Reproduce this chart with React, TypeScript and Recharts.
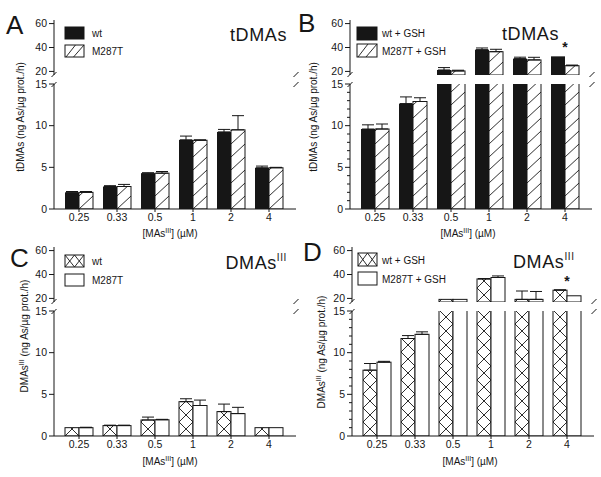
import React from "react";
import { BarChart, Bar, XAxis, YAxis, ErrorBar, LabelList } from "recharts";

const FONT = '"Liberation Sans", Arial, Helvetica, sans-serif';
const INK = "#161616";

// ---------------------------------------------------------------------------
// Data
// ---------------------------------------------------------------------------

const categories = ["0.25", "0.33", "0.5", "1", "2", "4"];

// A: tDMAs, no GSH
const aWt = [2.0, 2.7, 4.3, 8.3, 9.25, 4.95];
const aWtErr = [0.1, 0.1, 0.05, 0.45, 0.3, 0.2];
const aMut = [2.0, 2.7, 4.3, 8.25, 9.5, 4.95];
const aMutErr = [0.1, 0.25, 0.2, 0.05, 1.7, 0.05];
const aSig = [false, false, false, false, false, false];

// B: tDMAs + GSH
const bWt = [9.6, 12.65, 21.2, 38.2, 30.7, 32.6];
const bWtErr = [0.5, 0.8, 2.0, 1.4, 1.2, 0];
const bMut = [9.6, 12.9, 20.4, 36.5, 29.6, 24.8];
const bMutErr = [0.6, 0.45, 0.6, 2.0, 2.2, 0.5];
const bSig = [false, false, false, false, false, true];

// C: DMAs(III), no GSH
const cWt = [1.0, 1.25, 1.92, 4.12, 2.93, 1.0];
const cWtErr = [0, 0.05, 0.35, 0.35, 0.9, 0];
const cMut = [1.0, 1.25, 1.95, 3.66, 2.69, 1.0];
const cMutErr = [0.05, 0.05, 0.05, 0.65, 0.75, 0];
const cSig = [false, false, false, false, false, false];

// D: DMAs(III) + GSH
const dWt = [7.9, 11.7, 19.2, 36.3, 19.2, 26.9];
const dWtErr = [0.8, 0.35, 0, 0.3, 7.0, 0.3];
const dMut = [8.86, 12.2, 19.2, 37.5, 19.2, 22.2];
const dMutErr = [0.1, 0.3, 0, 1.3, 6.6, 0];
const dSig = [false, false, false, false, false, true];

const topTicks = [20, 40, 60];
const lowTicks = [0, 1, 2, 3, 4, 5, 6, 7, 8, 9, 10, 11, 12, 13, 14, 15];
const lowMajor = [0, 5, 10, 15];

// broken axis: upper segment and lower segment
const TOP_MIN = 17;
const TOP_MAX = 63;
const LOW_MAX = 15;

// ---------------------------------------------------------------------------
// Layout
// ---------------------------------------------------------------------------

const W = 242; // plot width
const TOP_H = 55;
const GAP = 9;
const LOW_H = 125;
const AXW = 34;
const PAD = 2;
const EXT = 8; // room for tick labels next to the break
const XAXH = 30;
const XPAD = { left: 6, right: 8 };

type Kind = "solid" | "stripe" | "cross" | "open";

// ---------------------------------------------------------------------------
// Bar shapes
// ---------------------------------------------------------------------------

function BarShape(props: any) {
  const { x, y, width, height, kind, pid, index } = props;
  if (width == null || height == null || height <= 0) return null;
  if (kind === "solid") {
    return <rect x={x} y={y} width={width} height={height} fill={INK} />;
  }
  const id = `${pid}-${index}`;
  const tile = kind === "cross" ? width : 13;
  return (
    <g>
      {kind !== "open" && (
        <defs>
          <pattern
            id={id}
            patternUnits="userSpaceOnUse"
            x={x}
            y={y + height}
            width={width}
            height={tile}
          >
            <rect width={width} height={tile} fill="#fff" />
            {kind === "stripe" && (
              <line x1={0} y1={tile} x2={width} y2={0} stroke={INK} strokeWidth={0.9} />
            )}
            {kind === "cross" && (
              <>
                <line x1={0} y1={0} x2={width} y2={tile} stroke={INK} strokeWidth={0.9} />
                <line x1={width} y1={0} x2={0} y2={tile} stroke={INK} strokeWidth={0.9} />
              </>
            )}
          </pattern>
        </defs>
      )}
      <rect
        x={x}
        y={y}
        width={width}
        height={height}
        fill={kind === "open" ? "#fff" : `url(#${id})`}
        stroke={INK}
        strokeWidth={1}
      />
    </g>
  );
}

function YTick(props: any) {
  const { x, y, payload, minor } = props;
  const v = payload.value;
  const major = lowMajor.includes(v) || topTicks.includes(v);
  if (!major && !minor) return null;
  const len = major ? 5 : 3;
  return (
    <g>
      <line x1={x - len} x2={x} y1={y} y2={y} stroke={INK} strokeWidth={1} />
      {major && (
        <text
          x={x - 7}
          y={y}
          dy="0.35em"
          textAnchor="end"
          fontSize={10.5}
          fontFamily={FONT}
          fill={INK}
        >
          {v}
        </text>
      )}
    </g>
  );
}

function StarLabel(props: any) {
  const { x, y, width, value } = props;
  if (!value) return null;
  return (
    <text
      x={Number(x) + Number(width)}
      y={Number(y) - 4}
      textAnchor="middle"
      fontSize={14}
      fontWeight="bold"
      fontFamily={FONT}
      fill={INK}
    >
      *
    </text>
  );
}

// ---------------------------------------------------------------------------
// One panel = upper segment chart + lower segment chart
// ---------------------------------------------------------------------------

interface PanelProps {
  id: string;
  left: number;
  top: number;
  wt: number[];
  wtErr: number[];
  mut: number[];
  mutErr: number[];
  sig: boolean[];
  wtKind: Kind;
  mutKind: Kind;
  minor: boolean;
}

function Panel(p: PanelProps) {
  const topData = categories.map((cat, i) => ({
    cat,
    wt: p.wt[i] > TOP_MIN ? p.wt[i] : null,
    mut: p.mut[i] > TOP_MIN ? p.mut[i] : null,
    wtErr: p.wt[i] > TOP_MIN && p.wtErr[i] > 0 ? [0, p.wtErr[i]] : null,
    mutErr: p.mut[i] > TOP_MIN && p.mutErr[i] > 0 ? [0, p.mutErr[i]] : null,
    star: p.sig[i] ? "*" : null,
  }));
  const lowData = categories.map((cat, i) => ({
    cat,
    wt: p.wt[i],
    mut: p.mut[i],
    wtErr: p.wt[i] <= LOW_MAX && p.wtErr[i] > 0 ? [0, p.wtErr[i]] : null,
    mutErr: p.mut[i] <= LOW_MAX && p.mutErr[i] > 0 ? [0, p.mutErr[i]] : null,
  }));

  const axisLine = { stroke: INK, strokeWidth: 1 };

  const rightAxis = (
    <YAxis
      yAxisId="r"
      orientation="right"
      width={0}
      domain={[0, 1]}
      tick={false}
      tickLine={false}
      axisLine={axisLine}
    />
  );

  return (
    <>
      <div style={{ position: "absolute", left: p.left - AXW, top: p.top - PAD }}>
        <BarChart
          width={AXW + W + PAD}
          height={PAD + TOP_H + EXT}
          data={topData}
          margin={{ top: PAD, right: PAD, left: 0, bottom: EXT }}
          barGap={0}
          barSize={14}
        >
          <XAxis
            dataKey="cat"
            orientation="top"
            height={0}
            tick={false}
            tickLine={false}
            axisLine={axisLine}
            padding={XPAD}
          />
          <YAxis
            type="number"
            domain={[TOP_MIN, TOP_MAX]}
            allowDataOverflow
            ticks={topTicks}
            interval={0}
            width={AXW}
            tickSize={0}
            tickMargin={0}
            tickLine={false}
            tick={<YTick minor={false} />}
            axisLine={axisLine}
          />
          {rightAxis}
          <Bar
            dataKey="wt"
            isAnimationActive={false}
            shape={(s: any) => <BarShape {...s} kind={p.wtKind} pid={`${p.id}-tw`} />}
          >
            <ErrorBar dataKey="wtErr" width={6} stroke={INK} strokeWidth={1} />
            <LabelList dataKey="star" content={<StarLabel />} />
          </Bar>
          <Bar
            dataKey="mut"
            isAnimationActive={false}
            shape={(s: any) => <BarShape {...s} kind={p.mutKind} pid={`${p.id}-tm`} />}
          >
            <ErrorBar dataKey="mutErr" width={6} stroke={INK} strokeWidth={1} />
          </Bar>
        </BarChart>
      </div>
      <div
        style={{
          position: "absolute",
          left: p.left - AXW,
          top: p.top + TOP_H + GAP - EXT,
        }}
      >
        <BarChart
          width={AXW + W + PAD}
          height={EXT + LOW_H + XAXH}
          data={lowData}
          margin={{ top: EXT, right: PAD, left: 0, bottom: 0 }}
          barGap={0}
          barSize={14}
        >
          <XAxis
            dataKey="cat"
            height={XAXH}
            interval={0}
            tickSize={3}
            tickMargin={2}
            tick={{ fontSize: 10.5, fill: INK, fontFamily: FONT }}
            tickLine={{ stroke: INK }}
            axisLine={axisLine}
            padding={XPAD}
          />
          <YAxis
            type="number"
            domain={[0, LOW_MAX]}
            allowDataOverflow
            ticks={lowTicks}
            interval={0}
            width={AXW}
            tickSize={0}
            tickMargin={0}
            tickLine={false}
            tick={<YTick minor={p.minor} />}
            axisLine={axisLine}
          />
          {rightAxis}
          <Bar
            dataKey="wt"
            isAnimationActive={false}
            shape={(s: any) => <BarShape {...s} kind={p.wtKind} pid={`${p.id}-lw`} />}
          >
            <ErrorBar dataKey="wtErr" width={6} stroke={INK} strokeWidth={1} />
          </Bar>
          <Bar
            dataKey="mut"
            isAnimationActive={false}
            shape={(s: any) => <BarShape {...s} kind={p.mutKind} pid={`${p.id}-lm`} />}
          >
            <ErrorBar dataKey="mutErr" width={6} stroke={INK} strokeWidth={1} />
          </Bar>
        </BarChart>
      </div>
    </>
  );
}

// ---------------------------------------------------------------------------
// Decorations: letters, titles, legends, axis titles, break marks
// ---------------------------------------------------------------------------

function Swatch({ x, y, w, h, kind }: { x: number; y: number; w: number; h: number; kind: Kind }) {
  return (
    <g>
      <rect
        x={x}
        y={y}
        width={w}
        height={h}
        fill={kind === "solid" ? INK : "#fff"}
        stroke={INK}
        strokeWidth={1}
      />
      {kind === "stripe" && (
        <>
          <line x1={x + 1} y1={y + h} x2={x + w * 0.55} y2={y} stroke={INK} strokeWidth={0.9} />
          <line x1={x + w * 0.45} y1={y + h} x2={x + w} y2={y} stroke={INK} strokeWidth={0.9} />
        </>
      )}
      {kind === "cross" && (
        <>
          <line x1={x} y1={y} x2={x + w / 2} y2={y + h} stroke={INK} strokeWidth={0.9} />
          <line x1={x + w / 2} y1={y} x2={x} y2={y + h} stroke={INK} strokeWidth={0.9} />
          <line x1={x + w / 2} y1={y} x2={x + w} y2={y + h} stroke={INK} strokeWidth={0.9} />
          <line x1={x + w} y1={y} x2={x + w / 2} y2={y + h} stroke={INK} strokeWidth={0.9} />
        </>
      )}
    </g>
  );
}

function BreakMarks({ left, top }: { left: number; top: number }) {
  const y1 = top + TOP_H;
  const y2 = top + TOP_H + GAP;
  const xs = [left, left + W];
  return (
    <g stroke={INK} strokeWidth={1} fill="none">
      {xs.map((x) => (
        <g key={x}>
          <path d={`M${x - 2.5},${y1 + 2} L${x + 2.5},${y1 - 3}`} />
          <path d={`M${x - 2.5},${y2 + 3} L${x + 2.5},${y2 - 2}`} />
        </g>
      ))}
    </g>
  );
}

const textStyle = { fontFamily: FONT, fill: INK } as const;

function Overlay() {
  return (
    <svg
      width={601}
      height={477}
      style={{ position: "absolute", left: 0, top: 0, pointerEvents: "none" }}
    >
      {/* panel letters */}
      <text x={6} y={34} fontSize={26} {...textStyle}>A</text>
      <text x={298} y={32} fontSize={26} {...textStyle}>B</text>
      <text x={10} y={267} fontSize={26} {...textStyle}>C</text>
      <text x={303} y={261} fontSize={26} {...textStyle}>D</text>

      {/* titles */}
      <text x={287} y={41} fontSize={18} textAnchor="end" letterSpacing={0.6} {...textStyle}>tDMAs</text>
      <text x={502} y={40} fontSize={18} letterSpacing={0.6} {...textStyle}>tDMAs</text>
      <text x={287} y={269} fontSize={18} textAnchor="end" letterSpacing={0.6} {...textStyle}>
        DMAs<tspan fontSize={10} dy={-8}>III</tspan>
      </text>
      <text x={513} y={268} fontSize={18} letterSpacing={0.6} {...textStyle}>
        DMAs<tspan fontSize={10} dy={-8}>III</tspan>
      </text>

      {/* legends */}
      <Swatch x={65} y={27} w={19} h={12} kind="solid" />
      <text x={92} y={37} fontSize={10} {...textStyle}>wt</text>
      <Swatch x={65} y={45} w={19} h={12} kind="stripe" />
      <text x={92} y={55} fontSize={10} {...textStyle}>M287T</text>

      <Swatch x={357} y={27} w={20} h={13} kind="solid" />
      <text x={382} y={37} fontSize={10} {...textStyle}>wt + GSH</text>
      <Swatch x={357} y={44} w={20} h={13} kind="stripe" />
      <text x={382} y={55} fontSize={10} {...textStyle}>M287T + GSH</text>

      <Swatch x={65} y={255} w={19} h={12} kind="cross" />
      <text x={92} y={265} fontSize={10} {...textStyle}>wt</text>
      <Swatch x={65} y={274} w={19} h={12} kind="open" />
      <text x={92} y={284} fontSize={10} {...textStyle}>M287T</text>

      <Swatch x={358} y={253} w={19} h={13} kind="cross" />
      <text x={382} y={264} fontSize={10} {...textStyle}>wt + GSH</text>
      <Swatch x={358} y={272} w={19} h={13} kind="open" />
      <text x={382} y={283} fontSize={10} {...textStyle}>M287T + GSH</text>

      {/* y axis titles */}
      <text transform="translate(24,117) rotate(-90)" fontSize={10} textAnchor="middle" {...textStyle}>
        tDMAs (ng As/µg prot./h)
      </text>
      <text transform="translate(317,117) rotate(-90)" fontSize={10} textAnchor="middle" {...textStyle}>
        tDMAs (ng As/µg prot./h)
      </text>
      <text transform="translate(28,336) rotate(-90)" fontSize={10} textAnchor="middle" {...textStyle}>
        DMAs<tspan fontSize={7} dy={-4}>III</tspan>
        <tspan dy={4}> (ng As/µg prot./h)</tspan>
      </text>
      <text transform="translate(325,352) rotate(-90)" fontSize={10} textAnchor="middle" {...textStyle}>
        DMAs<tspan fontSize={7} dy={-4}>III</tspan>
        <tspan dy={4}> (ng As/µg prot./h)</tspan>
      </text>

      {/* x axis titles */}
      <text x={170} y={237} fontSize={10} textAnchor="middle" {...textStyle}>
        [MAs<tspan fontSize={7} dy={-4}>III</tspan><tspan dy={4}>] (µM)</tspan>
      </text>
      <text x={468} y={237} fontSize={10} textAnchor="middle" {...textStyle}>
        [MAs<tspan fontSize={7} dy={-4}>III</tspan><tspan dy={4}>] (µM)</tspan>
      </text>
      <text x={170} y={465} fontSize={10} textAnchor="middle" {...textStyle}>
        [MAs<tspan fontSize={7} dy={-4}>III</tspan><tspan dy={4}>] (µM)</tspan>
      </text>
      <text x={470} y={465} fontSize={10} textAnchor="middle" {...textStyle}>
        [MAs<tspan fontSize={7} dy={-4}>III</tspan><tspan dy={4}>] (µM)</tspan>
      </text>

      <BreakMarks left={54} top={20} />
      <BreakMarks left={350} top={20} />
      <BreakMarks left={54} top={247} />
      <BreakMarks left={352} top={247} />
    </svg>
  );
}

export default function App() {
  return (
    <div
      style={{
        position: "absolute",
        left: 0,
        top: 0,
        width: 601,
        height: 477,
        background: "#fff",
        overflow: "hidden",
        fontFamily: FONT,
      }}
    >
      <Panel id="A" left={54} top={20} wt={aWt} wtErr={aWtErr} mut={aMut} mutErr={aMutErr}
        sig={aSig} wtKind="solid" mutKind="stripe" minor={false} />
      <Panel id="B" left={350} top={20} wt={bWt} wtErr={bWtErr} mut={bMut} mutErr={bMutErr}
        sig={bSig} wtKind="solid" mutKind="stripe" minor={true} />
      <Panel id="C" left={54} top={247} wt={cWt} wtErr={cWtErr} mut={cMut} mutErr={cMutErr}
        sig={cSig} wtKind="cross" mutKind="open" minor={false} />
      <Panel id="D" left={352} top={247} wt={dWt} wtErr={dWtErr} mut={dMut} mutErr={dMutErr}
        sig={dSig} wtKind="cross" mutKind="open" minor={true} />
      <Overlay />
    </div>
  );
}
